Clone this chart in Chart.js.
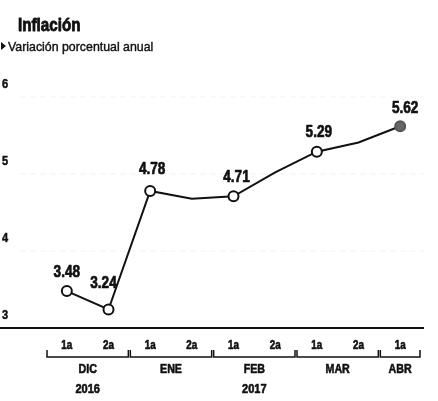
<!DOCTYPE html>
<html>
<head>
<meta charset="utf-8">
<script src="https://cdn.jsdelivr.net/npm/chart.js@4.4.1/dist/chart.umd.min.js"></script>
<style>
  html, body { margin: 0; padding: 0; background: #fff; }
  canvas { display: block; }
</style>
</head>
<body>
<canvas id="grafica" width="438" height="401"></canvas>
<script>
// quincenas dic 2016 - abr 2017
const quincenas = ['1a', '2a', '1a', '2a', '1a', '2a', '1a', '2a', '1a'];
const inflacion = [3.48, 3.24, 4.78, 4.68, 4.71, 5.02, 5.29, 5.41, 5.62];
// solo se marcan y etiquetan algunas quincenas
const etiquetas = ['3.48', '3.24', '4.78', null, '4.71', null, '5.29', null, '5.62'];
const meses = ['DIC', 'ENE', 'FEB', 'MAR', 'ABR'];
const mesInicio = [0, 2, 4, 6, 8];
const mesFin = [1, 3, 5, 7, 8];
const anios = ['2016', '2017'];
const anioCentro = [0.5, 4.5];
const ticksY = [3, 4, 5, 6];

const FUENTE = '"Liberation Sans", Arial, sans-serif';

// ajuste manual de algunas etiquetas para que no pisen la linea
const desplazaX = [0, -5, 2, 0, 3, 0, 2, 0, 5];
const desplazaY = [-18, -26, -21, 0, -19, 0, -19, 0, -17];

// la fuente del periodico es muy condensada y negra: se comprime a lo ancho
// y se engruesa con un trazo fino
function texto(ctx, t, x, y, esc, grueso) {
    ctx.save();
    ctx.translate(x, y);
    ctx.scale(esc, 1);
    ctx.fillText(t, 0, 0);
    if (grueso) {
        ctx.strokeStyle = ctx.fillStyle;
        ctx.lineWidth = grueso;
        ctx.lineJoin = 'round';
        ctx.strokeText(t, 0, 0);
    }
    ctx.restore();
}

const dibujoExtra = {
    id: 'dibujoExtra',
    beforeDraw(chart) {
        const ctx = chart.ctx;
        const y = chart.scales.y;
        ctx.save();
        ctx.fillStyle = '#fff';
        ctx.fillRect(0, 0, chart.width, chart.height);

        // titulo
        ctx.fillStyle = '#111';
        ctx.textBaseline = 'alphabetic';
        ctx.textAlign = 'left';
        ctx.font = 'bold 19px ' + FUENTE;
        texto(ctx, 'Inflación', 18, 31, 0.8, 0.9);
        ctx.font = '13px ' + FUENTE;
        texto(ctx, 'Variación porcentual anual', 8, 51, 0.95, 0.4);
        ctx.beginPath();
        ctx.moveTo(1, 42); ctx.lineTo(6, 46); ctx.lineTo(1, 50); ctx.closePath();
        ctx.fill();

        // rejilla tenue y etiquetas del eje y
        ticksY.forEach(v => {
            const py = y.getPixelForValue(v);
            if (v > ticksY[0]) {
                ctx.strokeStyle = 'rgba(0,0,0,0.05)';
                ctx.lineWidth = 1;
                ctx.setLineDash([6, 4]);
                ctx.beginPath();
                ctx.moveTo(20, py); ctx.lineTo(425, py);
                ctx.stroke();
                ctx.setLineDash([]);
            }
            ctx.fillStyle = '#111';
            ctx.font = 'bold 13px ' + FUENTE;
            ctx.textAlign = 'left';
            ctx.textBaseline = 'bottom';
            texto(ctx, String(v), 2, py - 6, 0.85, 0.5);
        });

        // linea base
        const base = y.getPixelForValue(ticksY[0]);
        ctx.strokeStyle = '#111';
        ctx.lineWidth = 2;
        ctx.beginPath();
        ctx.moveTo(0, base); ctx.lineTo(424, base);
        ctx.stroke();
        ctx.restore();
    },
    afterDraw(chart) {
        const ctx = chart.ctx;
        const x = chart.scales.x;
        const meta = chart.getDatasetMeta(0);
        const paso = x.getPixelForValue(1) - x.getPixelForValue(0);
        ctx.save();
        ctx.fillStyle = '#111';
        ctx.textAlign = 'center';

        // valores sobre los puntos
        ctx.font = 'bold 17px ' + FUENTE;
        ctx.textBaseline = 'bottom';
        etiquetas.forEach((t, i) => {
            if (!t) return;
            const p = meta.data[i];
            texto(ctx, t, p.x + desplazaX[i], p.y + desplazaY[i] + 8, 0.8, 0.7);
        });

        // quincenas
        ctx.font = 'bold 12px ' + FUENTE;
        ctx.textBaseline = 'middle';
        quincenas.forEach((q, i) => {
            texto(ctx, q, x.getPixelForValue(i), 346, 0.82, 0.6);
        });

        // corchetes de meses
        ctx.strokeStyle = '#111';
        ctx.lineWidth = 1.5;
        ctx.font = 'bold 13px ' + FUENTE;
        meses.forEach((m, k) => {
            const x0 = x.getPixelForValue(mesInicio[k]) - paso / 2 + 1;
            const x1 = x.getPixelForValue(mesFin[k]) + paso / 2 - 1;
            ctx.beginPath();
            ctx.moveTo(x0, 350); ctx.lineTo(x0, 357);
            ctx.lineTo(x1, 357); ctx.lineTo(x1, 350);
            ctx.stroke();
            texto(ctx, m, (x0 + x1) / 2, 369, 0.82, 0.6);
        });

        // anios
        anios.forEach((a, k) => {
            const c = x.getPixelForValue(0) + anioCentro[k] * paso;
            texto(ctx, a, c, 389, 0.85, 0.6);
        });
        ctx.restore();
    }
};

new Chart(document.getElementById('grafica'), {
    type: 'line',
    data: {
        labels: quincenas,
        datasets: [{
            data: inflacion,
            borderColor: '#111',
            borderWidth: 2,
            tension: 0,
            pointRadius: etiquetas.map(t => t ? 5 : 0),
            pointBorderWidth: 2,
            pointBorderColor: etiquetas.map((t, i) => i === etiquetas.length - 1 ? '#555' : '#111'),
            pointBackgroundColor: etiquetas.map((t, i) => i === etiquetas.length - 1 ? '#666' : '#fff')
        }]
    },
    options: {
        responsive: false,
        animation: false,
        events: [],
        layout: { padding: { left: 46, right: 17, top: 97, bottom: 73 } },
        plugins: { legend: { display: false }, tooltip: { enabled: false } },
        scales: {
            x: { display: false, offset: true },
            y: { display: false, min: 3, max: 6 }
        }
    },
    plugins: [dibujoExtra]
});
</script>
</body>
</html>
